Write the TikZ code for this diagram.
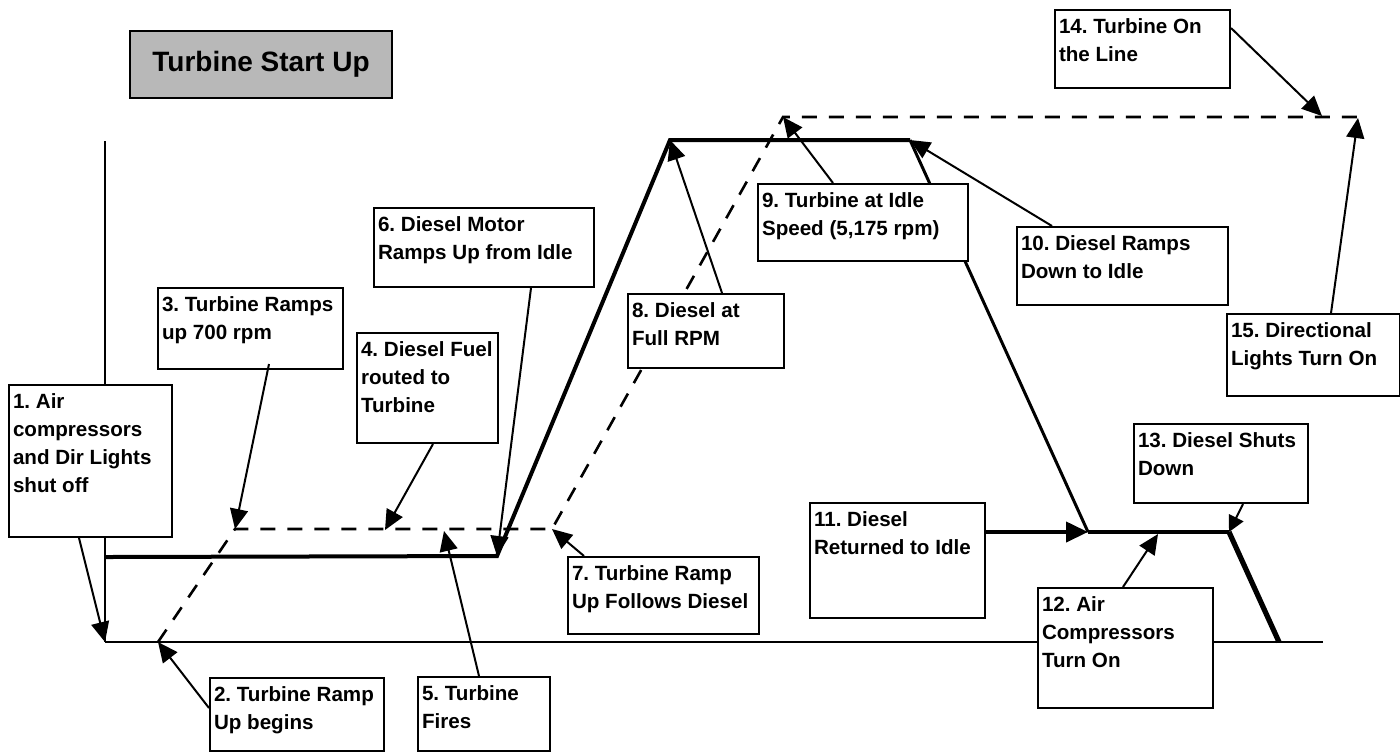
\documentclass[tikz,border=0pt]{standalone}
\usepackage{fontspec}
\setmainfont{Liberation Sans}
\usetikzlibrary{arrows.meta,calc}
\frenchspacing
\newcommand{\bxt}[3]{\parbox[c][#2][t]{#1}{\raggedright\frenchspacing #3}}
\begin{document}
\begin{tikzpicture}[x=0.5pt,y=-0.5pt,
  bx/.style={draw, line width=1pt, fill=white, rectangle, inner xsep=2pt, inner ysep=4.5pt, anchor=north west,
    font=\bfseries\fontsize{10.3}{14}\selectfont},
  arr/.style={line width=1pt, -{Triangle[length=10pt,width=9pt]}},
  dz/.style={line width=2pt},
  turb/.style={line width=1.3pt, dash pattern=on 7.5pt off 6pt},
  titlebox/.style={draw, line width=1pt, fill=black!28, minimum width=131pt, minimum height=33.5pt,
    font=\bfseries\fontsize{14}{16}\selectfont}]
\useasboundingbox (0,0) rectangle (1400,752);
% key points
\coordinate (vt) at (105,141);
\coordinate (vb) at (105,642);
\coordinate (be) at (1323,642);
\coordinate (d0) at (105,557);
\coordinate (d1) at (497,556);
\coordinate (d2) at (670,140);
\coordinate (d3) at (910,140);
\coordinate (d4) at (1088,532);
\coordinate (d5) at (1229,532);
\coordinate (d6) at (1279,642);
\coordinate (t0) at (158,642);
\coordinate (t1) at (235,529);
\coordinate (t2) at (552,529);
\coordinate (t3) at (783,117);
\coordinate (t4) at (1360,117);
\coordinate (p4) at (385,530);
\coordinate (p5) at (444,531);
\coordinate (p12) at (1158,534);
\coordinate (p14) at (1322,116);
\coordinate (p15) at (1358,118);
% axes and traces
\draw[line width=1.4pt] (vt) -- (vb);
\draw[line width=1.3pt] (vb) -- (be);
\draw[dz] (d0) -- (d1) -- (d2) -- (d3);
\draw[line width=1.5pt] (d3) -- (d4);
\draw[dz] (d4) -- (d5);
\draw[line width=2.6pt] (d5) -- (d6);
\draw[turb] (t0) -- (t1) -- (t2) -- (t3) -- (t4);
% title
\node[titlebox] (title) at (261,64.5) {Turbine Start Up};
% boxes
\node[bx] (b1) at (8,384) {\bxt{77.5pt}{67pt}{1. Air\\compressors\\and Dir Lights\\shut off}};
\node[bx] (b2) at (209,677) {\bxt{83pt}{27.5pt}{2. Turbine Ramp\\Up begins}};
\node[bx] (b3) at (157,287) {\bxt{88.5pt}{31.5pt}{3. Turbine Ramps\\up 700 rpm}};
\node[bx] (b4) at (356,332) {\bxt{66.5pt}{46pt}{4. Diesel Fuel\\routed to\\Turbine}};
\node[bx] (b5) at (417,676) {\bxt{62pt}{28pt}{5. Turbine\\Fires}};
\node[bx] (b6) at (373,207) {\bxt{106pt}{30.5pt}{6. Diesel Motor\\Ramps Up from Idle}};
\node[bx] (b7) at (567,556) {\bxt{91.5pt}{29.5pt}{7. Turbine Ramp\\Up Follows Diesel}};
\node[bx] (b8) at (627,293) {\bxt{74pt}{28pt}{8. Diesel at\\Full RPM}};
\node[bx] (b9) at (757,183) {\bxt{101pt}{29.5pt}{9. Turbine at Idle\\Speed (5,175 rpm)}};
\node[bx] (b10) at (1016,226) {\bxt{101.5pt}{30pt}{10. Diesel Ramps\\Down to Idle}};
\node[bx] (b11) at (809,502) {\bxt{83.5pt}{48.5pt}{11. Diesel\\Returned to Idle}};
\node[bx] (b12) at (1037,587) {\bxt{83.5pt}{51pt}{12. Air\\Compressors\\Turn On}};
\node[bx] (b13) at (1133,423) {\bxt{83pt}{30.5pt}{13. Diesel Shuts\\Down}};
\node[bx] (b14) at (1054,9) {\bxt{83.5pt}{30pt}{14. Turbine On\\the Line}};
\node[bx] (b15) at (1226,313) {\bxt{82.5pt}{32pt}{15. Directional\\Lights Turn On}};
% arrows
\draw[arr] ($(b1.south west)+(71,0)$) -- (vb);
\draw[arr] ($(b2.north west)+(0,31)$) -- (t0);
\draw[arr] ($(b3.south west)+(112,-6)$) -- (t1);
\draw[arr] ($(b4.south west)+(77,0)$) -- (p4);
\draw[arr] ($(b5.north west)+(62,0)$) -- (p5);
\draw[arr] ($(b6.south west)+(158,0)$) -- (d1);
\draw[arr] ($(b7.north west)+(17,0)$) -- (t2);
\draw[arr] ($(b8.north west)+(95,0)$) -- (d2);
\draw[arr] ($(b9.north west)+(76,0)$) -- (t3);
\draw[arr] ($(b10.north west)+(36,0)$) -- (d3);
\draw[line width=2pt, -{Triangle[length=11pt,width=10pt]}] ($(b11.north east)+(0,30)$) -- (d4);
\draw[arr] ($(b12.north west)+(86,0)$) -- (p12);
\draw[line width=1pt, -{Triangle[length=8pt,width=8pt]}] ($(b13.south west)+(110,0)$) -- (d5);
\draw[arr] ($(b14.north east)+(0,19)$) -- (p14);
\draw[arr] ($(b15.north west)+(105,0)$) -- (p15);
\end{tikzpicture}
\end{document}
